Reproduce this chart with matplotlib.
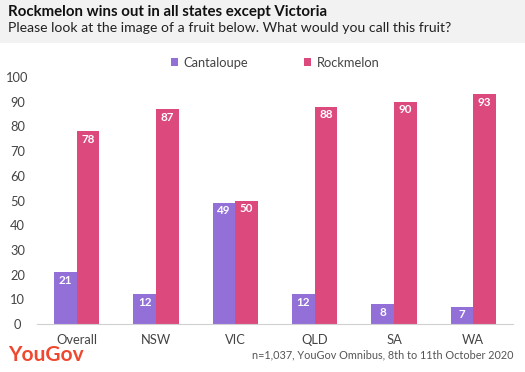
import numpy as np
import matplotlib.pyplot as plt
from matplotlib.patches import Rectangle

plt.rcParams['font.family'] = ['Lato', 'DejaVu Sans']

categories = ["Overall", "NSW", "VIC", "QLD", "SA", "WA"]
cantaloupe = [21, 12, 49, 12, 8, 7]
rockmelon = [78, 87, 50, 88, 90, 93]
series_names = ["Cantaloupe", "Rockmelon"]
yticks = [0, 10, 20, 30, 40, 50, 60, 70, 80, 90, 100]

purple = "#9270d8"
pink = "#dc4a7d"

W, H = 525, 372
fig = plt.figure(figsize=(W / 100, H / 100), dpi=100)

# header band
fig.patches.append(Rectangle((0, 1 - 43 / H), 1, 43 / H, transform=fig.transFigure,
                             facecolor="#f2f2f2", edgecolor="none", zorder=0))
fig.text(8 / W, 1 - 12 / H, "Rockmelon wins out in all states except Victoria",
         fontsize=10.8, fontweight="bold", color="#111111", va="center")
fig.text(8 / W, 1 - 28 / H, "Please look at the image of a fruit below. What would you call this fruit?",
         fontsize=10.1, color="#222222", va="center")

ax = fig.add_axes([37 / W, 1 - 324 / H, (513 - 37) / W, (324 - 77) / H])
x = np.arange(len(categories))
bw = 0.287
b1 = ax.bar(x - bw / 2, cantaloupe, bw, color=purple, label=series_names[0])
b2 = ax.bar(x + bw / 2, rockmelon, bw, color=pink, label=series_names[1])

for bars, vals in ((b1, cantaloupe), (b2, rockmelon)):
    for b, v in zip(bars, vals):
        ax.text(b.get_x() + b.get_width() / 2, v - 3.2, str(v), ha="center", va="center",
                color="white", fontsize=8.4, fontweight="bold")

ax.set_xlim(-0.5, len(categories) - 0.5)
ax.set_ylim(0, 100)
ax.set_yticks(yticks)
ax.set_xticks(x)
ax.set_xticklabels(categories)
for s in ("top", "right", "left"):
    ax.spines[s].set_visible(False)
ax.spines["bottom"].set_color("#d0d0d0")
ax.tick_params(axis="both", length=0, labelsize=9.3, colors="#444444")
ax.tick_params(axis="y", pad=14)
ax.tick_params(axis="x", pad=7)
for t in ax.get_yticklabels():
    t.set_horizontalalignment("center")

ax.legend(loc="upper center", bbox_to_anchor=(0.5, 1.13), ncol=2, frameon=False,
          fontsize=9.3, handlelength=0.6, handleheight=0.6, columnspacing=4.3,
          handletextpad=0.4, labelcolor="#444444")

fig.text(8 / W, 1 - 355 / H, "YouGov", fontsize=15, fontweight="bold",
         color="#f0472f", va="center")
fig.text(513 / W, 1 - 355 / H, "n=1,037, YouGov Omnibus, 8th to 11th October 2020",
         fontsize=7.8, color="#555555", ha="right", va="center")

fig.savefig("out.png", dpi=100)
